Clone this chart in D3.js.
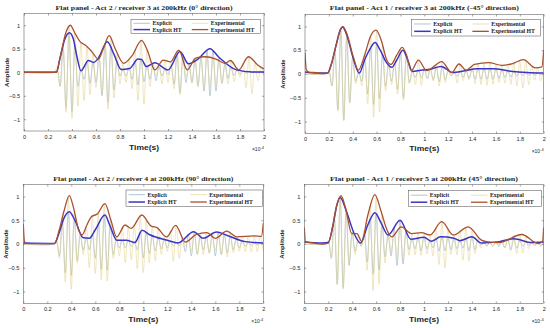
<!DOCTYPE html>
<html><head><meta charset="utf-8">
<script src="https://cdn.jsdelivr.net/npm/d3@7"></script>
<style>body{margin:0;background:#fff}svg{display:block}</style>
</head><body><svg id="c" width="550" height="328"></svg>
<script>
// ---------------- data ----------------
const xTicks = [0,0.2,0.4,0.6,0.8,1,1.2,1.4,1.6,1.8,2];
const yTicks = [-1,-0.5,0,0.5,1];
const legendLabels = ["Explicit","Experimental","Explicit HT","Experimental HT"];
const titles = [
  "Flat panel - Act 2 / receiver 3 at 200kHz (0° direction)",
  "Flat panel - Act 1 / receiver 3 at 200kHz (-45° direction)",
  "Flat panel - Act 2 / receiver 4 at 200kHz (90° direction)",
  "Flat panel - Act 1 / receiver 5 at 200kHz (45° direction)"
];
const peakStep = 0.025;           // time between successive extrema (x1e-4 s)
const onsets = [0.275, 0.2, 0.275, 0.2];

// signed extrema of raw signals, starting at onset, every peakStep
const p1Explicit = [0.05,-0.3,0.55,-0.75,0.84,-0.84,0.6,-0.3,0.05,-0.15,
 0.23,-0.24,0.21,-0.22,0.35,-0.5,0.62,-0.65,0.55,-0.38,
 0.2,-0.08,0.06,-0.08,0.1,-0.15,0.22,-0.27,0.27,-0.2,
 0.13,-0.15,0.2,-0.18,0.12,-0.08,0.06,-0.05,0.12,-0.25,
 0.38,-0.44,0.38,-0.22,0.18,-0.22,0.26,-0.28,0.33,-0.4,
 0.47,-0.5,0.47,-0.4,0.32,-0.24,0.18,-0.13,0.1,-0.07,
 0.05,-0.04,0.03,-0.02,0.02,-0.01,0.01,-0.01,0.01,-0.01];
const p1Experimental = [0.1,-0.3,0.6,-0.85,0.97,-0.98,0.83,-0.72,0.64,-0.6,
 0.55,-0.48,0.4,-0.32,0.3,-0.45,0.62,-0.78,0.75,-0.55,
 0.38,-0.25,0.19,-0.22,0.28,-0.35,0.48,-0.6,0.67,-0.68,
 0.48,-0.3,0.12,-0.08,0.18,-0.25,0.25,-0.22,0.25,-0.35,
 0.45,-0.48,0.3,-0.1,0.1,-0.22,0.3,-0.32,0.32,-0.35,
 0.32,-0.32,0.29,-0.3,0.24,-0.22,0.19,-0.25,0.25,-0.2,
 0.08,-0.1,0.2,-0.33,0.33,-0.45,0.22,-0.18,0.1,-0.08];
const p2Explicit = [0.05,-0.25,0.5,-0.75,0.92,-0.97,0.82,-0.6,0.35,-0.15,
 0.03,-0.15,0.3,-0.42,0.55,-0.64,0.64,-0.52,0.38,-0.26,
 0.2,-0.15,0.22,-0.32,0.45,-0.5,0.38,-0.18,0.05,-0.07,
 0.08,-0.08,0.09,-0.1,0.1,-0.12,0.14,-0.16,0.16,-0.12,
 0.07,-0.04,0.03,-0.05,0.06,-0.07,0.08,-0.09,0.1,-0.11,
 0.11,-0.11,0.11,-0.11,0.11,-0.11,0.1,-0.09,0.08,-0.07,
 0.06,-0.06,0.05,-0.04,0.04,-0.03,0.03,-0.03,0.03,-0.02,
 0.02,-0.02,0.02];
const p2Experimental = [0.05,-0.25,0.52,-0.78,0.95,-0.98,0.85,-0.6,0.38,-0.2,
 0.1,-0.25,0.42,-0.62,0.8,-0.9,0.92,-0.8,0.6,-0.35,
 0.22,-0.22,0.32,-0.42,0.52,-0.55,0.4,-0.2,0.1,-0.22,
 0.29,-0.24,0.12,-0.08,0.12,-0.15,0.2,-0.25,0.26,-0.18,
 0.08,-0.04,0.1,-0.19,0.21,-0.14,0.08,-0.12,0.18,-0.2,
 0.21,-0.22,0.23,-0.24,0.24,-0.22,0.2,-0.18,0.18,-0.19,
 0.2,-0.22,0.23,-0.25,0.28,-0.3,0.28,-0.22,0.17,-0.13,
 0.13,-0.14,0.15];
const p3Explicit = [0.05,-0.25,0.45,-0.6,0.68,-0.66,0.52,-0.35,0.2,-0.13,
 0.11,-0.12,0.2,-0.3,0.42,-0.53,0.6,-0.55,0.4,-0.22,
 0.09,-0.08,0.08,-0.08,0.07,-0.05,0.04,-0.12,0.25,-0.29,
 0.25,-0.2,0.17,-0.14,0.12,-0.1,0.09,-0.08,0.06,-0.04,
 0.03,-0.04,0.1,-0.16,0.21,-0.25,0.26,-0.22,0.16,-0.12,
 0.14,-0.18,0.22,-0.25,0.24,-0.22,0.2,-0.18,0.15,-0.12,
 0.1,-0.08,0.06,-0.05,0.04,-0.03,0.03,-0.02,0.02,-0.02];
const p3Experimental = [0.1,-0.3,0.55,-0.8,0.98,-0.95,0.7,-0.4,0.22,-0.22,
 0.38,-0.5,0.58,-0.62,0.65,-0.75,0.84,-0.78,0.52,-0.3,
 0.16,-0.25,0.35,-0.4,0.36,-0.33,0.42,-0.52,0.6,-0.6,
 0.5,-0.4,0.37,-0.35,0.3,-0.22,0.16,-0.16,0.28,-0.36,
 0.39,-0.3,0.15,-0.05,0.1,-0.15,0.19,-0.21,0.22,-0.23,
 0.24,-0.2,0.15,-0.12,0.16,-0.22,0.26,-0.27,0.23,-0.18,
 0.15,-0.15,0.16,-0.16,0.17,-0.17,0.17,-0.16,0.16,-0.16];
const p4Explicit = [0.05,-0.3,0.6,-0.85,0.98,-0.92,0.7,-0.45,0.25,-0.15,
 0.05,-0.03,0.2,-0.38,0.52,-0.63,0.65,-0.55,0.4,-0.27,
 0.19,-0.25,0.35,-0.45,0.5,-0.42,0.25,-0.12,0.1,-0.1,
 0.12,-0.14,0.14,-0.1,0.06,-0.08,0.12,-0.15,0.15,-0.14,
 0.13,-0.12,0.12,-0.1,0.07,-0.09,0.12,-0.14,0.15,-0.12,
 0.06,-0.02,0.03,-0.04,0.04,-0.05,0.05,-0.05,0.06,-0.08,
 0.1,-0.11,0.11,-0.09,0.07,-0.05,0.04,-0.03,0.03,-0.03,
 0.04,-0.04,0.04];
const p4Experimental = [0.05,-0.3,0.55,-0.82,1.0,-0.95,0.7,-0.4,0.22,-0.22,
 0.18,-0.06,0.3,-0.55,0.8,-0.98,1.02,-0.85,0.6,-0.4,
 0.26,-0.16,0.22,-0.3,0.35,-0.34,0.28,-0.24,0.22,-0.23,
 0.24,-0.24,0.23,-0.21,0.19,-0.25,0.35,-0.43,0.47,-0.5,
 0.3,-0.22,0.19,-0.23,0.3,-0.34,0.36,-0.35,0.28,-0.2,
 0.12,-0.08,0.06,-0.05,0.04,-0.04,0.03,-0.03,0.05,-0.08,
 0.12,-0.15,0.18,-0.2,0.2,-0.19,0.15,-0.1,0.06,-0.03,
 0.01,-0.02,0.05];

// Hilbert-transform envelopes: [time (x1e-4 s), amplitude]
const p1ExplicitHT = [[0,0],[0.27,0],[0.3,0.3],[0.34,0.7],[0.378,0.84],[0.41,0.72],[0.44,0.35],[0.475,0.03],[0.536,0.25],[0.58,0.21],[0.62,0.3],[0.694,0.65],[0.75,0.38],[0.81,0.06],[0.88,0.08],[0.95,0.28],[0.98,0.27],[1.02,0.12],[1.09,0.2],[1.2,0.05],[1.3,0.44],[1.37,0.18],[1.45,0.28],[1.55,0.5],[1.62,0.33],[1.77,0.05],[1.9,0.005],[2,0.005]];
const p1ExperimentalHT = [[0,0],[0.27,0],[0.3,0.3],[0.35,0.85],[0.385,1.0],[0.425,0.83],[0.467,0.65],[0.51,0.58],[0.565,0.44],[0.62,0.28],[0.66,0.5],[0.71,0.78],[0.76,0.5],[0.83,0.19],[0.9,0.35],[0.98,0.68],[1.03,0.45],[1.09,0.05],[1.16,0.26],[1.22,0.22],[1.29,0.47],[1.36,0.05],[1.43,0.3],[1.51,0.33],[1.6,0.28],[1.675,0.19],[1.72,0.25],[1.79,0.05],[1.87,0.33],[1.95,0.15],[2,0.07]];
const p2ExplicitHT = [[0,0.04],[0.1,0.02],[0.19,0.02],[0.22,0.2],[0.26,0.6],[0.3,0.95],[0.316,0.98],[0.35,0.82],[0.405,0.32],[0.455,0.02],[0.5,0.3],[0.55,0.55],[0.587,0.66],[0.63,0.5],[0.68,0.25],[0.727,0.14],[0.77,0.3],[0.82,0.5],[0.86,0.3],[0.9,0.05],[0.97,0.08],[1.05,0.1],[1.14,0.16],[1.24,0.03],[1.34,0.07],[1.44,0.11],[1.58,0.11],[1.72,0.06],[1.86,0.03],[2,0.02]];
const p2ExperimentalHT = [[0,0.45],[0.01,0.1],[0.03,0.04],[0.1,0.03],[0.15,0.01],[0.19,0.02],[0.22,0.2],[0.26,0.6],[0.3,0.95],[0.316,1.0],[0.35,0.85],[0.405,0.36],[0.447,0.08],[0.5,0.4],[0.55,0.8],[0.595,0.92],[0.64,0.7],[0.684,0.3],[0.72,0.2],[0.77,0.4],[0.815,0.56],[0.85,0.4],[0.89,0.07],[0.95,0.29],[1.02,0.07],[1.06,0.12],[1.145,0.26],[1.23,0.03],[1.29,0.21],[1.35,0.08],[1.42,0.2],[1.54,0.24],[1.65,0.18],[1.74,0.22],[1.83,0.3],[1.93,0.13],[1.985,0.15],[2,0.5]];
const p3ExplicitHT = [[0,0.02],[0.26,0.01],[0.3,0.25],[0.34,0.55],[0.383,0.68],[0.43,0.5],[0.5,0.13],[0.55,0.12],[0.6,0.3],[0.68,0.61],[0.72,0.4],[0.78,0.08],[0.86,0.08],[0.93,0.03],[0.99,0.29],[1.05,0.2],[1.2,0.08],[1.29,0.02],[1.42,0.26],[1.5,0.12],[1.61,0.25],[1.7,0.18],[1.85,0.05],[2,0.02]];
const p3ExperimentalHT = [[0,0.42],[0.01,0.05],[0.03,0.01],[0.26,0.01],[0.3,0.3],[0.34,0.7],[0.383,1.02],[0.42,0.75],[0.46,0.3],[0.49,0.19],[0.53,0.4],[0.57,0.58],[0.617,0.63],[0.68,0.85],[0.73,0.5],[0.778,0.15],[0.848,0.4],[0.9,0.33],[0.987,0.61],[1.07,0.37],[1.11,0.35],[1.195,0.15],[1.27,0.39],[1.35,0.04],[1.44,0.2],[1.53,0.24],[1.6,0.12],[1.695,0.27],[1.78,0.15],[1.92,0.17],[1.985,0.16],[2,0.44]];
const p4ExplicitHT = [[0,0.04],[0.15,0.02],[0.2,0.03],[0.24,0.4],[0.27,0.8],[0.3,0.98],[0.35,0.7],[0.42,0.2],[0.47,0.02],[0.53,0.4],[0.59,0.66],[0.64,0.45],[0.7,0.19],[0.8,0.5],[0.89,0.1],[1.0,0.14],[1.06,0.06],[1.14,0.15],[1.25,0.12],[1.3,0.07],[1.4,0.15],[1.48,0.02],[1.63,0.05],[1.75,0.11],[1.9,0.03],[2,0.04]];
const p4ExperimentalHT = [[0,0.35],[0.01,0.05],[0.05,0.03],[0.15,0.0],[0.2,0.02],[0.24,0.4],[0.27,0.8],[0.307,1.02],[0.35,0.7],[0.396,0.22],[0.44,0.22],[0.48,0.05],[0.53,0.6],[0.59,1.04],[0.64,0.7],[0.69,0.3],[0.73,0.15],[0.81,0.36],[0.897,0.22],[0.98,0.24],[1.05,0.19],[1.148,0.47],[1.245,0.19],[1.37,0.36],[1.48,0.08],[1.52,0.05],[1.63,0.03],[1.816,0.2],[1.955,0.01],[1.99,0.05],[2,0.35]];

const explicitSeries = [p1Explicit,p2Explicit,p3Explicit,p4Explicit];
const experimentalSeries = [p1Experimental,p2Experimental,p3Experimental,p4Experimental];
const explicitHT = [p1ExplicitHT,p2ExplicitHT,p3ExplicitHT,p4ExplicitHT];
const experimentalHT = [p1ExperimentalHT,p2ExperimentalHT,p3ExperimentalHT,p4ExperimentalHT];

// ---------------- layout / style ----------------
const layout = [
  {x0:24,  x1:264,   y0:13.5,  y1:131,   titleY:9.6,   titleW:177, ampX:6.5,  timeY:149.5, leg:[131,19.3,129.3,14.3]},
  {x0:305, x1:543.7, y0:14.5,  y1:133.5, titleY:10.2,  titleW:189, ampX:282.5,timeY:151,   leg:[411.7,19.3,129,16.7]},
  {x0:23.3,x1:263.3, y0:184.6, y1:303.4, titleY:180.6, titleW:180, ampX:6,    timeY:321.5, leg:[126,190,136.7,16.7]},
  {x0:304.3,x1:543.7,y0:184.6, y1:303.4, titleY:180.6, titleW:188, ampX:281.5,timeY:321.5, leg:[408.3,190.7,133.3,16]}
];
const C = {explicit:"#8eaec0", experimental:"#e4d394", explicitHT:"#3c34c4", experimentalHT:"#a9502c", axis:"#4a4a4a", text:"#262626"};

const svg = d3.select("#c");

layout.forEach((L,i)=>{
  const x = d3.scaleLinear().domain([0,2]).range([L.x0,L.x1]);
  const y = d3.scaleLinear().domain([-1.25,1.25]).range([L.y1,L.y0]);
  const g = svg.append("g");
  const clipId = "clip"+i;
  g.append("clipPath").attr("id",clipId).append("rect")
    .attr("x",L.x0).attr("y",L.y0).attr("width",L.x1-L.x0).attr("height",L.y1-L.y0);

  // axes
  const ax = g.append("g").attr("transform",`translate(0,${L.y1})`)
    .call(d3.axisBottom(x).tickValues(xTicks).tickSize(-2).tickPadding(4).tickFormat(d3.format("")));
  const axT = g.append("g").attr("transform",`translate(0,${L.y0})`)
    .call(d3.axisTop(x).tickValues(xTicks).tickSize(-2).tickFormat(""));
  const ay = g.append("g").attr("transform",`translate(${L.x0},0)`)
    .call(d3.axisLeft(y).tickValues(yTicks).tickSize(-2).tickPadding(4).tickFormat(d3.format("")));
  const ayR = g.append("g").attr("transform",`translate(${L.x1},0)`)
    .call(d3.axisRight(y).tickValues(yTicks).tickSize(-2).tickFormat(""));
  [ax,axT,ay,ayR].forEach(a=>{
    a.select(".domain").remove();
    a.selectAll(".tick line").attr("stroke",C.axis).attr("stroke-width",0.5);
    a.selectAll("text").attr("font-family","Liberation Sans, Arial, sans-serif")
      .attr("font-size",5.6).attr("fill",C.text);
  });

  const plot = g.append("g").attr("clip-path",`url(#${clipId})`);
  const osc = d3.line().x(d=>x(d[0])).y(d=>y(d[1])).curve(d3.curveCatmullRom.alpha(0.5));
  const env = d3.line().x(d=>x(d[0])).y(d=>y(d[1])).curve(d3.curveMonotoneX);
  const toPts = arr => [[0,0],[onsets[i]-peakStep,0]].concat(arr.map((v,k)=>[onsets[i]+k*peakStep, v]));

  plot.append("path").attr("d",osc(toPts(explicitSeries[i]))).attr("fill","none")
    .attr("stroke",C.explicit).attr("stroke-width",0.6);
  plot.append("path").attr("d",osc(toPts(experimentalSeries[i]))).attr("fill","none")
    .attr("stroke",C.experimental).attr("stroke-width",0.6);
  plot.append("path").attr("d",env(explicitHT[i])).attr("fill","none")
    .attr("stroke",C.explicitHT).attr("stroke-width",1.5);
  plot.append("path").attr("d",env(experimentalHT[i])).attr("fill","none")
    .attr("stroke",C.experimentalHT).attr("stroke-width",1.3);

  // box
  g.append("rect").attr("x",L.x0).attr("y",L.y0).attr("width",L.x1-L.x0).attr("height",L.y1-L.y0)
    .attr("fill","none").attr("stroke",C.axis).attr("stroke-width",0.5);

  // title
  g.append("text").attr("x",(L.x0+L.x1)/2).attr("y",L.titleY).attr("text-anchor","middle")
    .attr("font-family","Liberation Serif, Times New Roman, serif").attr("font-weight","bold")
    .attr("font-size",7).attr("fill",C.text)
    .attr("textLength",L.titleW).attr("lengthAdjust","spacingAndGlyphs").text(titles[i]);
  // x label
  g.append("text").attr("x",(L.x0+L.x1)/2).attr("y",L.timeY).attr("text-anchor","middle")
    .attr("font-family","Liberation Sans, Arial, sans-serif").attr("font-weight","bold")
    .attr("font-size",7.2).attr("fill",C.text)
    .attr("textLength",30).attr("lengthAdjust","spacingAndGlyphs").text("Time(s)");
  // exponent
  const ex = g.append("text").attr("x",L.x1).attr("y",L.timeY+1.5).attr("text-anchor","end")
    .attr("font-family","Liberation Sans, Arial, sans-serif").attr("font-size",5).attr("fill",C.text);
  ex.append("tspan").text("×10");
  ex.append("tspan").attr("dy",-2).attr("font-size",4).text("-4");
  // y label
  g.append("text").attr("transform",`translate(${L.ampX},${(L.y0+L.y1)/2}) rotate(-90)`)
    .attr("text-anchor","middle").attr("dy","0.35em")
    .attr("font-family","Liberation Sans, Arial, sans-serif").attr("font-weight","bold")
    .attr("font-size",6).attr("fill",C.text).text("Amplitude");

  // legend
  const [lx,ly,lw,lh] = L.leg;
  const lg = g.append("g");
  lg.append("rect").attr("x",lx).attr("y",ly).attr("width",lw).attr("height",lh)
    .attr("fill","#fff").attr("stroke",C.axis).attr("stroke-width",0.5);
  const items = [
    {label:legendLabels[0], c:C.explicit, w:0.7, col:0, row:0},
    {label:legendLabels[1], c:C.experimental, w:0.7, col:1, row:0},
    {label:legendLabels[2], c:C.explicitHT, w:1.5, col:0, row:1},
    {label:legendLabels[3], c:C.experimentalHT, w:1.3, col:1, row:1}
  ];
  const colX = [lx+2.5, lx+lw*0.47];
  items.forEach(it=>{
    const cy = ly + lh*(it.row===0 ? 0.28 : 0.72);
    const x0 = colX[it.col];
    lg.append("line").attr("x1",x0).attr("x2",x0+16.5).attr("y1",cy).attr("y2",cy)
      .attr("stroke",it.c).attr("stroke-width",it.w);
    lg.append("text").attr("x",x0+19).attr("y",cy).attr("dy","0.35em")
      .attr("font-family","Liberation Serif, Times New Roman, serif").attr("font-weight","bold")
      .attr("font-size",5.8).attr("fill",C.text).text(it.label);
  });
});
</script></body></html>
